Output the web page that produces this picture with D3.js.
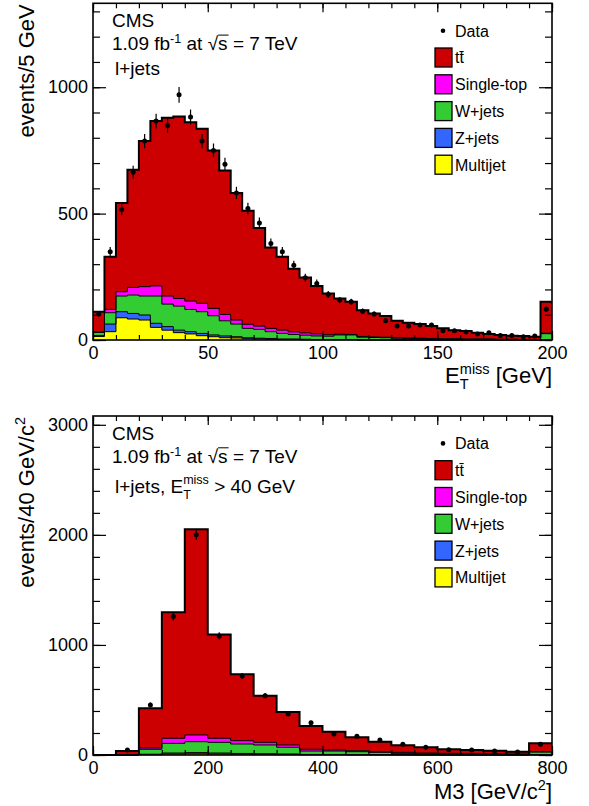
<!DOCTYPE html>
<meta charset="utf-8">
<html>
<head>
<style>
  body { margin: 0; background: #fff; }
  text { font-family: "Liberation Sans", Arial, sans-serif; fill: #000; }
</style>
</head>
<body>
<script src="https://d3js.org/d3.v7.min.js"></script>
<script>
// ---------- top panel: missing ET, 5 GeV bins ----------
let metBins = [0,5,10,15,20,25,30,35,40,45,50,55,60,65,70,75,80,85,90,95,
               100,105,110,115,120,125,130,135,140,145,150,155,160,165,170,175,180,185,190,195];
let metMultijet  = [14,33,88,83,79,50,39,29,24,17,13,9,8,5,4,3,2,2,1,1,1,1,1,0,0,0,0,0,0,0,0,0,0,0,0,0,0,0,0,0];
let metZjets     = [4,30,24,22,20,16,14,10,9,9,7,7,5,4,3,3,2,2,2,1,1,1,1,1,1,1,0,0,0,0,0,0,0,0,0,0,0,0,0,1];
let metWjets     = [12,45,62,73,75,108,89,95,88,86,76,60,50,37,35,27,22,18,16,14,13,18,18,10,9,8,7,6,6,5,4,4,3,3,3,2,2,2,2,24];
let metSingleTop = [2,13,17,30,37,40,32,30,33,33,29,25,16,16,13,13,13,10,9,8,6,3,2,3,2,2,2,2,1,1,1,1,1,1,1,1,1,0,0,2];
let metTTbar     = [80,208,351,466,576,652,705,720,707,691,625,570,503,449,388,320,290,250,219,190,
                    163,141,129,104,93,84,67,60,56,49,41,34,32,25,20,17,14,14,11,124];
let metData      = [103,349,516,664,787,866,849,970,882,787,750,695,582,520,463,382,349,296,246,224,
                    180,158,151,114,103,76,55,55,59,59,37,37,32,24,29,18,18,13,16,122];
let metXTicks = [0, 50, 100, 150, 200];
let metYTicks = [0, 500, 1000];

// ---------- bottom panel: M3, 40 GeV/c^2 bins ----------
let m3Bins = [0,40,80,120,160,200,240,280,320,360,400,440,480,520,560,600,640,680,720,760];
let m3Multijet  = [0,0,3,8,10,8,6,5,4,2,2,1,1,1,0,0,0,0,0,1];
let m3Zjets     = [0,0,4,10,12,10,8,7,5,3,3,2,2,1,1,1,1,0,0,2];
let m3Wjets     = [0,2,45,88,99,97,86,79,61,31,31,27,21,13,11,9,7,7,5,24];
let m3SingleTop = [0,0,12,46,61,37,30,24,21,16,9,9,6,9,6,5,4,3,3,3];
let m3TTbar     = [0,34,360,1145,1870,942,603,424,300,212,167,122,91,64,52,37,33,29,22,76];
let m3Data      = [0,45,455,1258,2000,1082,718,539,373,294,191,170,136,97,70,48,45,36,27,97];
let m3XTicks = [0, 200, 400, 600, 800];
let m3YTicks = [0, 1000, 2000, 3000];

// legend
let legendKeys   = ['tt', 'st', 'w', 'z', 'mj'];
let legendLabels = ['tt\u0304', 'Single-top', 'W+jets', 'Z+jets', 'Multijet'];
let colors = {tt: '#cc0000', st: '#ff00ff', w: '#33cc33', z: '#3366ff', mj: '#ffff00'};

let svg = d3.select('body').append('svg').attr('width', 589).attr('height', 806);
let frameLeft = 93, frameRight = 552;
let infoSize = 19;

// draw a run of text pieces (sup / sub / overline) starting at the group origin
function rich(parent, parts, size, anchorEnd) {
    let grp = parent.append('g');
    let cx = 0, prevStart = 0;
    parts.forEach(p => {
        let fs = p.small ? size * 0.66 : size;
        let start = p.under ? prevStart : cx;
        let t = grp.append('text').attr('x', start).attr('y', p.dy || 0)
                   .attr('font-size', fs).style('white-space', 'pre').text(p.t);
        let w = t.node().getComputedTextLength();
        if (p.over) {
            grp.append('line').attr('x1', start).attr('x2', start + w + 1)
               .attr('y1', -size * 0.8).attr('y2', -size * 0.8)
               .attr('stroke', '#000').attr('stroke-width', 1);
        }
        if (p.under) { cx = Math.max(cx, start + w); }
        else { prevStart = start; cx = start + w; }
    });
    if (anchorEnd) grp.attr('transform', `translate(${-cx},0)`);
    return grp;
}

function panel(cfg) {
    let x = d3.scaleLinear().domain([0, cfg.xMax]).range([frameLeft, frameRight]);
    let y = d3.scaleLinear().domain([0, cfg.yMax]).range([cfg.bottom, cfg.top]);
    let g = svg.append('g');

    let rows = cfg.bins.map((b, i) => ({bin: b, mj: cfg.mj[i], z: cfg.z[i], w: cfg.w[i], st: cfg.st[i], tt: cfg.tt[i]}));
    let series = d3.stack().keys(['mj', 'z', 'w', 'st', 'tt'])(rows);
    let step = cfg.bins[1] - cfg.bins[0];

    let area = d3.area().curve(d3.curveStepAfter)
                 .x(d => x(d.x)).y0(d => y(d.lo)).y1(d => y(d.hi));
    let line = d3.line().curve(d3.curveStepAfter)
                 .x(d => x(d.x)).y(d => y(d.hi));
    let layers = series.map(s => {
        let pts = s.map((d, i) => ({x: cfg.bins[i], lo: d[0], hi: d[1]}));
        let last = pts[pts.length - 1];
        pts.push({x: last.x + step, lo: last.lo, hi: last.hi});
        return {key: s.key, pts: pts};
    });
    layers.forEach(l => {
        g.append('path').attr('d', area(l.pts)).attr('fill', colors[l.key]);
    });
    layers.forEach(l => {
        g.append('path').attr('d', line(l.pts)).attr('fill', 'none')
         .attr('stroke', '#000').attr('stroke-width', l.key === 'tt' ? 2 : 1);
    });

    // data points with sqrt(N) error bars
    let pts = cfg.bins.map((b, i) => ({x: b + step / 2, v: cfg.data[i]})).filter(d => d.v > 0);
    g.selectAll('line.err').data(pts).enter().append('line')
     .attr('x1', d => x(d.x)).attr('x2', d => x(d.x))
     .attr('y1', d => y(d.v - Math.sqrt(d.v))).attr('y2', d => y(d.v + Math.sqrt(d.v)))
     .attr('stroke', '#000').attr('stroke-width', 1.2);
    g.selectAll('circle.pt').data(pts).enter().append('circle')
     .attr('cx', d => x(d.x)).attr('cy', d => y(d.v)).attr('r', 2.5).attr('fill', '#000');

    // axes, ticks inside on all four sides
    let h = cfg.bottom;
    let xMinor = d3.range(0, cfg.xMax + 1e-6, cfg.xMinorStep);
    let yMinor = d3.range(0, cfg.yMax, cfg.yMinorStep);
    let style = sel => { sel.select('.domain').remove(); sel.selectAll('text').attr('font-size', 18).attr('font-family', null); };
    g.append('g').attr('transform', `translate(0,${h})`)
     .call(d3.axisBottom(x).tickValues(xMinor).tickSize(-5).tickFormat('')).call(style);
    g.append('g').attr('transform', `translate(0,${h})`)
     .call(d3.axisBottom(x).tickValues(cfg.xTicks).tickSizeInner(-9).tickSizeOuter(0).tickPadding(6).tickFormat(d3.format('d'))).call(style);
    g.append('g').attr('transform', `translate(0,${cfg.top})`)
     .call(d3.axisTop(x).tickValues(xMinor).tickSize(-5).tickFormat('')).call(style);
    g.append('g').attr('transform', `translate(0,${cfg.top})`)
     .call(d3.axisTop(x).tickValues(cfg.xTicks).tickSize(-9).tickFormat('')).call(style);
    g.append('g').attr('transform', `translate(${frameLeft},0)`)
     .call(d3.axisLeft(y).tickValues(yMinor).tickSize(-7).tickFormat('')).call(style);
    g.append('g').attr('transform', `translate(${frameLeft},0)`)
     .call(d3.axisLeft(y).tickValues(cfg.yTicks).tickSizeInner(-13).tickSizeOuter(0).tickPadding(5).tickFormat(d3.format('d'))).call(style);
    g.append('g').attr('transform', `translate(${frameRight},0)`)
     .call(d3.axisRight(y).tickValues(yMinor).tickSize(-7).tickFormat('')).call(style);
    g.append('g').attr('transform', `translate(${frameRight},0)`)
     .call(d3.axisRight(y).tickValues(cfg.yTicks).tickSize(-13).tickFormat('')).call(style);
    g.selectAll('.tick line').attr('stroke-width', 1.2);

    g.append('rect').attr('x', frameLeft).attr('y', cfg.top)
     .attr('width', frameRight - frameLeft).attr('height', cfg.bottom - cfg.top)
     .attr('fill', 'none').attr('stroke', '#000').attr('stroke-width', 1.6);

    // labels inside the frame
    let t0 = cfg.top;
    rich(g.append('g').attr('transform', `translate(112,${t0 + 23.5})`), [{t: 'CMS'}], infoSize);
    rich(g.append('g').attr('transform', `translate(112,${t0 + 47})`),
         [{t: '1.09 fb'}, {t: '-1', small: true, dy: -7.5}, {t: ' at '}, {t: '\u221A'}, {t: 's', over: true}, {t: ' = 7 TeV'}], infoSize);
    rich(g.append('g').attr('transform', `translate(115,${t0 + cfg.line3})`), cfg.line3Parts, infoSize);

    // legend
    let lg = g.append('g').attr('transform', `translate(0,${t0 + 27.4})`);
    lg.append('circle').attr('cx', 443).attr('cy', 0).attr('r', 2.3).attr('fill', '#000');
    lg.append('text').attr('x', 455).attr('y', 6).attr('font-size', 16).text('Data');
    legendKeys.forEach((k, i) => {
        let yy = 26.8 * (i + 1);
        lg.append('rect').attr('x', 435).attr('y', yy - 9.5).attr('width', 17).attr('height', 19)
          .attr('fill', colors[k]).attr('stroke', '#000').attr('stroke-width', 1.3);
        lg.append('text').attr('x', 455).attr('y', yy + 6).attr('font-size', 16).text(legendLabels[i]);
    });

    // axis titles
    rich(g.append('g').attr('transform', `translate(${frameRight},${cfg.xTitleY})`), cfg.xTitle, 22, true);
    rich(g.append('g').attr('transform', `translate(34,${cfg.top + 1}) rotate(-90)`), cfg.yTitle, 22, true);
}

panel({
    bins: metBins, mj: metMultijet, z: metZjets, w: metWjets, st: metSingleTop, tt: metTTbar, data: metData,
    xMax: 200, yMax: 1332, top: 3.3, bottom: 340,
    xTicks: metXTicks, yTicks: metYTicks, xMinorStep: 10, yMinorStep: 100,
    line3: 72, line3Parts: [{t: 'l+jets'}],
    xTitleY: 383,
    xTitle: [{t: 'E'}, {t: 'miss', small: true, dy: -9}, {t: 'T', small: true, under: true, dy: 6}, {t: ' [GeV]'}],
    yTitle: [{t: 'events/5 GeV'}]
});

panel({
    bins: m3Bins, mj: m3Multijet, z: m3Zjets, w: m3Wjets, st: m3SingleTop, tt: m3TTbar, data: m3Data,
    xMax: 800, yMax: 3080, top: 416, bottom: 755,
    xTicks: m3XTicks, yTicks: m3YTicks, xMinorStep: 40, yMinorStep: 200,
    line3: 77,
    line3Parts: [{t: 'l+jets, E'}, {t: 'miss', small: true, dy: -9}, {t: 'T', small: true, under: true, dy: 6}, {t: ' > 40 GeV'}],
    xTitleY: 799,
    xTitle: [{t: 'M3 [GeV/c'}, {t: '2', small: true, dy: -9}, {t: ']'}],
    yTitle: [{t: 'events/40 GeV/c'}, {t: '2', small: true, dy: -9}]
});
</script>
</body>
</html>
